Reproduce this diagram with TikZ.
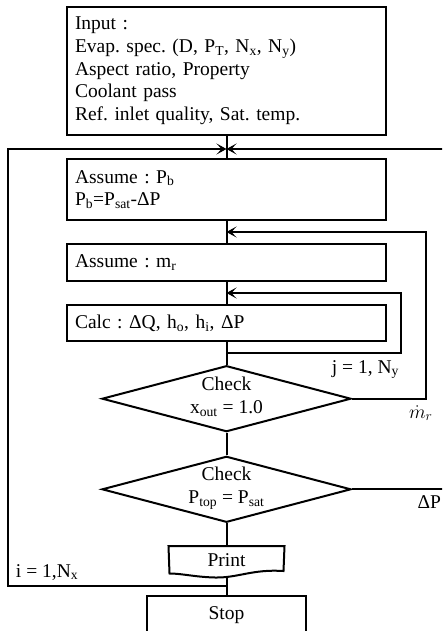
\RequirePackage{fix-cm}
\documentclass[tikz,border=0pt]{standalone}
\usepackage{fontspec}
\setmainfont{Liberation Serif}
\usetikzlibrary{arrows.meta,shapes.geometric,calc}
\newcommand\myfs{\fontsize{19.5}{22.7}\selectfont}
\frenchspacing
\begin{document}
\begin{tikzpicture}[x=1pt,y=-1pt,line width=2pt,
  every node/.style={font=\myfs},
  box/.style={draw,rectangle,inner sep=8pt,align=left,minimum width=319pt,text width=303pt},
  dia/.style={draw,diamond,inner sep=0pt,minimum width=249pt,minimum height=66pt},
  dtext/.style={align=center,inner sep=0pt},
  lbl/.style={inner sep=0pt},
  arr/.style={-{Stealth[length=10pt,width=11pt,inset=5pt]}}]
\useasboundingbox (0,0) rectangle (442,631);
\clip (0,0) rectangle (442,631);
\fill[white] (0,0) rectangle (442,631);

% nodes
\node[box,minimum height=128pt] (input) at (226.5,71)
  {Input :\\Evap. spec. (D, P\textsubscript{T}, N\textsubscript{x}, N\textsubscript{y})\\Aspect ratio, Property\\Coolant pass\\Ref. inlet quality, Sat. temp.};
\node[box,minimum height=61pt] (pb) at (226.5,189.5)
  {Assume : P\textsubscript{b}\\P\textsubscript{b}=P\textsubscript{sat}-ΔP};
\node[box,minimum height=37pt] (mr) at (226.5,262.5) {Assume : m\textsubscript{r}};
\node[box,minimum height=36pt] (calc) at (226.5,323)
  {Calc : ΔQ, h\textsubscript{o}, h\textsubscript{i}, ΔP};
\node[dia] (d1) at (226.5,398.7) {};
\node[dtext] (d1t) at (226.5,397) {Check\\x\textsubscript{out} = 1.0};
\node[dia] (d2) at (226.5,489.3) {};
\node[dtext] (d2t) at (226.5,488) {Check\\P\textsubscript{top} = P\textsubscript{sat}};
\node[minimum width=114pt,minimum height=29pt,inner sep=0pt,text height=13pt,text depth=3pt] (print) at (226.5,561.5) {Print};
\draw (print.north west) -- (print.north east) -- (283.5,571)
  .. controls (252,569) and (238,578) .. (215,577.5)
  .. controls (195,577) and (182,573.5) .. (169.5,573.5) -- cycle;
\node[draw,rectangle,minimum width=159pt,minimum height=38pt,inner sep=0pt,text height=13pt,text depth=4pt] (stop) at (226.5,614.7) {Stop};

% coordinates
\coordinate (top) at (226.5,149);
\coordinate (L) at (7.5,149);
\coordinate (R) at (446,149);
\coordinate (ib) at (226.5,586);
\coordinate (m1) at (226.5,232);
\coordinate (m1r) at (425.7,232);
\coordinate (c1) at (226.5,293);
\coordinate (c1r) at (401,293);
\coordinate (c2) at (226.5,352.7);
\coordinate (R2) at (446,489.3);

% connectors
\draw (input) -- (pb);
\draw (pb) -- (mr);
\draw (mr) -- (calc);
\draw (calc) -- (d1);
\draw (d1) -- (d2);
\draw (d2) -- (print);
\draw (print.south) -- (stop);
\draw[arr] (ib) -- (ib -| L) -- (L) -- (top);
\draw[arr] (R) -- (top);
\draw[arr] (d1.east) -- (d1.east -| m1r) -- (m1r) -- (m1);
\draw[arr] (c2) -- (c2 -| c1r) -- (c1r) -- (c1);
\draw (d2.east) -- (R2);

% labels
\node[lbl,anchor=base east] (jl) at (400,373) {j = 1, N\textsubscript{y}};
\node[lbl,anchor=base west] (mdot) at (408,418) {$\dot{m}_r$};
\node[lbl,anchor=base east] (dp) at (442,508) {ΔP};
\node[lbl,anchor=base west] (il) at (15,577) {i = 1,N\textsubscript{x}};
\end{tikzpicture}
\end{document}
